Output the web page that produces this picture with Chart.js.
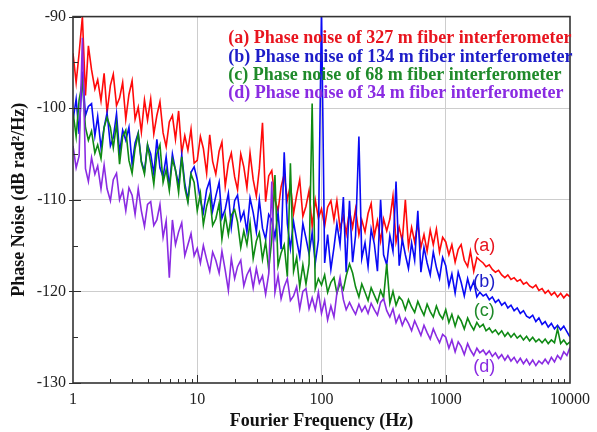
<!DOCTYPE html>
<html><head><meta charset="utf-8">
<script src="https://cdn.jsdelivr.net/npm/chart.js@4.4.1/dist/chart.umd.min.js"></script>
<style>html,body{margin:0;padding:0;background:#fff}#wrap{width:597px;height:432px;position:relative}</style>
</head><body><div id="wrap"><canvas id="c"></canvas></div>
<script>
// Fourier frequency grid (Hz)
const FREQ = [
1,1.06,1.12,1.19,1.26,1.33,1.41,1.5,1.58,1.68,1.78,1.88,2,2.11,2.24,2.37,2.51,2.66,2.82,2.99,3.16,3.35,3.55,3.76,3.98,4.22,4.47,4.73,5.01,5.31,5.62,5.96,6.31,6.68,7.08,7.5,7.94,8.41,8.91,9.44,
10,10.6,11.2,11.9,12.6,13.3,14.1,15,15.8,16.8,17.8,18.8,20,21.1,22.4,23.7,25.1,26.6,28.2,29.9,31.6,33.5,35.5,37.6,39.8,42.2,44.7,47.3,50.1,53.1,56.2,59.6,63.1,66.8,70.8,75,79.4,84.1,89.1,94.4,
100,106,112,119,126,133,141,150,158,168,178,188,200,211,224,237,251,266,282,299,316,335,355,376,398,422,447,473,501,531,562,596,631,668,708,750,794,841,891,944,
1000,1060,1120,1190,1260,1330,1410,1500,1580,1680,1780,1880,2000,2110,2240,2370,2510,2660,2820,2990,3160,3350,3550,3760,3980,4220,4470,4730,5010,5310,5620,5960,6310,6680,7080,7500,7940,8410,8910,9440,10000
];
// (a) 327 m fiber, dB rad^2/Hz
const NOISE_327 = [
-94.0,-97.2,-94.0,-90.0,-98.6,-93.2,-95.8,-97.9,-96.9,-99.2,-96.2,-100.5,-97.5,-96.3,-99.7,-98.9,-97.2,-101.2,-98.5,-97.0,-101.2,-99.9,-102.6,-99.1,-101.3,-99.0,-102.8,-100.8,-99.3,-102.7,-104.2,-101.5,-100.8,-103.4,-100.3,-104.9,-103.0,-104.6,-102.3,-106.0,
-105.7,-103.1,-104.4,-107.1,-102.9,-105.8,-107.2,-104.7,-103.7,-108.5,-106.0,-104.9,-107.5,-108.9,-105.0,-106.4,-108.7,-104.9,-107.8,-109.6,-106.6,-101.6,-110.2,-107.4,-106.8,-110.0,-111.2,-108.6,-107.2,-110.0,-108.4,-111.5,-109.5,-107.8,-111.8,-110.7,-109.0,-112.9,-110.0,-112.0,
-111.0,-112.9,-110.8,-110.1,-112.2,-110.1,-113.1,-111.8,-113.7,-111.2,-113.0,-111.0,-113.8,-112.2,-113.5,-111.5,-110.4,-114.0,-112.3,-114.5,-112.1,-113.4,-112.1,-109.6,-114.6,-113.0,-114.5,-110.0,-115.1,-113.0,-114.6,-112.6,-115.2,-113.8,-115.6,-113.3,-114.9,-113.2,-115.7,-114.1,
-114.6,-116.0,-114.9,-116.8,-115.4,-114.9,-116.6,-117.3,-115.6,-117.8,-116.3,-116.6,-116.9,-117.3,-117.1,-117.6,-117.9,-117.7,-118.2,-118.5,-118.2,-118.7,-118.5,-118.9,-118.7,-119.2,-119.0,-119.4,-119.6,-119.3,-119.9,-119.7,-120.2,-119.9,-120.4,-120.1,-120.6,-120.2,-120.7,-120.3,-120.6
];
// (b) 134 m fiber
const NOISE_134 = [
-101.3,-99.0,-102.8,-96.0,-100.8,-99.8,-99.5,-103.0,-100.9,-104.3,-102.1,-100.5,-104.1,-103.2,-100.6,-104.9,-102.4,-103.5,-102.1,-106.1,-103.8,-102.7,-105.8,-106.9,-104.0,-105.0,-107.2,-103.4,-106.5,-107.5,-105.3,-108.6,-105.0,-106.8,-108.3,-105.1,-108.2,-110.0,-107.0,-106.4,
-107.8,-110.1,-111.4,-108.9,-107.9,-111.2,-109.6,-108.1,-112.0,-111.0,-109.3,-113.0,-110.1,-109.5,-112.2,-111.3,-113.5,-109.8,-111.4,-113.5,-110.0,-113.1,-114.3,-111.6,-112.2,-114.1,-111.4,-115.4,-104.8,-112.6,-115.3,-112.4,-114.4,-116.2,-112.6,-114.2,-115.9,-113.6,-116.9,-114.4,
-89.0,-116.9,-113.8,-117.6,-115.2,-112.6,-114.9,-109.7,-117.9,-110.1,-116.8,-113.9,-103.1,-116.4,-114.7,-117.3,-113.2,-114.8,-117.8,-110.0,-116.0,-117.1,-113.9,-115.6,-108.0,-117.2,-114.3,-116.0,-117.5,-114.7,-116.6,-111.2,-117.9,-115.2,-116.9,-118.2,-115.7,-117.4,-118.6,-116.3,
-117.2,-119.4,-118.1,-120.2,-117.9,-119.0,-120.5,-118.6,-119.8,-118.9,-120.6,-120.1,-120.5,-120.3,-120.9,-120.6,-121.2,-120.9,-121.5,-121.2,-121.8,-121.5,-122.1,-121.8,-122.4,-122.1,-122.7,-122.9,-122.6,-123.3,-122.9,-123.6,-123.3,-123.9,-123.5,-124.1,-123.7,-124.2,-123.8,-124.4,-125.0
];
// (c) 68 m fiber
const NOISE_68 = [
-100.4,-103.1,-99.1,-97.2,-102.1,-103.5,-102.5,-104.9,-104.0,-105.5,-102.1,-101.0,-102.1,-104.3,-101.7,-106.1,-103.1,-102.4,-105.7,-107.1,-104.4,-102.8,-105.9,-107.2,-104.0,-106.0,-108.3,-105.0,-104.0,-108.1,-106.7,-109.0,-105.6,-106.7,-109.2,-105.3,-108.7,-110.3,-107.2,-108.1,
-111.2,-109.3,-112.7,-110.7,-109.5,-112.8,-112.1,-110.4,-114.3,-111.7,-113.8,-111.7,-111.1,-112.4,-115.2,-113.4,-114.9,-112.5,-116.4,-114.5,-113.6,-116.5,-114.6,-117.6,-114.3,-107.3,-117.2,-115.8,-114.9,-118.4,-106.0,-117.8,-116.3,-119.5,-117.1,-119.2,-117.0,-99.5,-119.7,-118.6,
-119.3,-118.2,-120.1,-119.0,-118.5,-120.2,-119.1,-119.8,-118.3,-117.0,-118.0,-119.5,-120.6,-119.2,-120.1,-121.0,-119.6,-120.4,-121.2,-119.9,-120.7,-117.0,-121.3,-120.0,-121.5,-120.6,-121.0,-122.0,-120.9,-121.7,-122.3,-121.1,-121.9,-122.6,-121.4,-122.2,-122.8,-121.6,-122.5,-123.0,
-122.0,-123.4,-122.5,-123.8,-122.7,-123.2,-124.1,-122.9,-123.6,-124.2,-123.4,-123.9,-123.6,-124.3,-124.0,-124.5,-124.2,-124.7,-124.3,-124.9,-124.5,-125.0,-124.6,-125.1,-124.8,-125.3,-124.9,-125.4,-125.0,-125.5,-125.2,-125.6,-125.2,-125.7,-125.3,-125.6,-124.1,-125.7,-125.3,-125.8,-125.5
];
// (d) 34 m fiber
const NOISE_34 = [
-104.1,-106.5,-105.2,-92.3,-106.6,-108.0,-105.4,-107.2,-106.3,-108.8,-106.2,-108.8,-110.1,-107.8,-107.1,-110.0,-109.0,-111.2,-108.7,-109.5,-111.6,-108.8,-111.2,-112.9,-110.5,-110.2,-112.8,-112.2,-110.5,-114.1,-112.3,-118.5,-112.2,-114.9,-113.5,-112.5,-116.1,-114.9,-113.7,-116.1,
-115.3,-116.9,-115.0,-116.5,-117.8,-115.7,-116.6,-118.0,-115.6,-117.7,-119.9,-116.4,-118.6,-117.3,-116.6,-119.4,-118.2,-117.5,-119.6,-117.5,-119.1,-118.3,-120.3,-118.1,-108.0,-120.1,-118.3,-120.8,-119.5,-118.6,-121.0,-120.5,-119.5,-121.9,-120.0,-119.7,-121.9,-120.7,-122.0,-120.1,
-122.4,-121.0,-123.1,-121.6,-122.8,-120.2,-118.5,-120.9,-122.0,-121.2,-121.9,-122.5,-121.4,-122.2,-121.6,-122.4,-121.3,-122.0,-122.6,-121.2,-120.8,-122.1,-122.8,-121.9,-123.4,-122.6,-123.7,-122.9,-123.5,-124.3,-123.2,-124.0,-124.8,-123.7,-124.5,-125.2,-124.1,-124.9,-125.6,-124.7,
-125.0,-126.2,-125.3,-126.6,-125.5,-126.0,-126.9,-125.7,-126.4,-127.0,-126.2,-126.7,-126.4,-126.9,-126.5,-127.1,-126.7,-127.3,-126.9,-127.5,-127.0,-127.6,-127.2,-127.8,-127.3,-127.9,-127.4,-128.0,-127.5,-128.1,-127.6,-127.9,-127.4,-127.9,-127.2,-127.7,-127.0,-127.4,-126.6,-127.0,-126.1
];
const SERIES_NAMES = [
  '(a) Phase noise of 327 m fiber interferometer',
  '(b) Phase noise of 134 m fiber interferometer',
  '(c) Phase noise of 68 m fiber interferometer',
  '(d) Phase noise of 34 m fiber interferometer'
];
const CURVE_TAGS = ['(a)', '(b)', '(c)', '(d)'];
const TAG_FREQ = 2040;
const TAG_DB = [-115.0, -119.0, -122.1, -128.3];
const LEGEND_FREQ = 17.8;
const LEGEND_DB = [-92.4, -94.5, -96.45, -98.4];
const X_TICKS = [1, 10, 100, 1000, 10000];
const Y_TICKS = [-130, -120, -110, -100, -90];

const LINE_COLORS = ['#ff0a0a', '#0a0af5', '#0f8a14', '#8a2be2'];
const TEXT_COLORS = ['#e8141e', '#1c1cc8', '#1f8a2a', '#8a2be2'];
const SERIES = [NOISE_327, NOISE_134, NOISE_68, NOISE_34];

const SERIF = '"Liberation Serif", "Times New Roman", serif';
const SANS = '"Liberation Sans", Arial, sans-serif';
Chart.defaults.font.family = SERIF;

const overlay = {
  id: 'overlay',
  afterDraw(chart) {
    const {ctx, chartArea: a, scales: {x, y}} = chart;
    ctx.save();
    ctx.strokeStyle = '#2e2e2e';
    ctx.lineWidth = 1;
    ctx.beginPath();
    for (let d = 1; d < 10000; d *= 10) {
      for (let m = 1; m <= 9; m++) {
        const v = m * d;
        if (v <= 1) continue;
        const px = Math.round(x.getPixelForValue(v)) + 0.5;
        const len = m === 1 ? 8 : 4;
        ctx.moveTo(px, a.bottom);
        ctx.lineTo(px, a.bottom - len);
      }
    }
    for (let v = -130; v <= -90; v += 5) {
      const py = Math.round(y.getPixelForValue(v)) + 0.5;
      if (v % 10 === 0) {
        ctx.moveTo(a.left - 4, py);
        ctx.lineTo(a.left + 8, py);
      } else {
        ctx.moveTo(a.left, py);
        ctx.lineTo(a.left + 5, py);
      }
    }
    ctx.stroke();
    ctx.lineWidth = 1.6;
    ctx.strokeStyle = '#333';
    ctx.strokeRect(a.left, a.top, a.right - a.left, a.bottom - a.top);

    ctx.font = 'bold 18px ' + SERIF;
    ctx.textAlign = 'left';
    ctx.textBaseline = 'middle';
    const lx = x.getPixelForValue(LEGEND_FREQ);
    SERIES_NAMES.forEach((t, i) => {
      ctx.fillStyle = TEXT_COLORS[i];
      ctx.fillText(t, lx, y.getPixelForValue(LEGEND_DB[i]));
    });
    ctx.font = '18px ' + SANS;
    ctx.textAlign = 'center';
    const tx = x.getPixelForValue(TAG_FREQ);
    CURVE_TAGS.forEach((t, i) => {
      ctx.fillStyle = TEXT_COLORS[i];
      ctx.fillText(t, tx, y.getPixelForValue(TAG_DB[i]));
    });
    ctx.restore();
  }
};

const datasets = SERIES.map((vals, i) => ({
  label: SERIES_NAMES[i],
  data: FREQ.map((f, k) => ({x: f, y: vals[k]})),
  borderColor: LINE_COLORS[i],
  borderWidth: 1.6,
  pointRadius: 0,
  tension: 0,
  fill: false,
  clip: 0,
  order: 4 - i
}));

new Chart(document.getElementById('c'), {
  type: 'line',
  data: {datasets},
  options: {
    responsive: true,
    maintainAspectRatio: false,
    animation: false,
    events: [],
    layout: {padding: {top: 13, right: 20, left: 0, bottom: 0}},
    plugins: {legend: {display: false}, tooltip: {enabled: false}},
    scales: {
      x: {
        type: 'logarithmic',
        min: 1, max: 10000,
        afterFit: s => { s.height = 49; },
        afterBuildTicks: s => { s.ticks = s.ticks.filter(t => t.value >= 1 && t.value <= 10000); },
        border: {display: false},
        grid: {
          drawTicks: false,
          lineWidth: 1,
          color: c => (c.tick && X_TICKS.includes(c.tick.value) && c.tick.value !== 1 && c.tick.value !== 10000) ? '#cdcdcd' : 'rgba(0,0,0,0)'
        },
        ticks: {
          autoSkip: false, maxRotation: 0, minRotation: 0,
          padding: 7, color: '#222', font: {size: 16, family: SERIF},
          callback: v => X_TICKS.includes(v) ? String(v) : ''
        },
        title: {display: true, text: 'Fourier Frequency (Hz)', color: '#111',
          font: {size: 18, weight: 'bold', family: SERIF}, padding: {top: 0, bottom: 0}}
      },
      y: {
        type: 'linear',
        min: -130, max: -90,
        afterFit: s => { s.width = 73; },
        afterBuildTicks: s => { s.ticks = Y_TICKS.map(v => ({value: v})); },
        border: {display: false},
        grid: {
          drawTicks: false, lineWidth: 1,
          color: c => (c.tick && c.tick.value > -130 && c.tick.value < -90) ? '#cdcdcd' : 'rgba(0,0,0,0)'
        },
        ticks: {padding: 7, color: '#222', font: {size: 16, family: SERIF}},
        title: {display: true, text: 'Phase Noise (dB rad\u00B2/Hz)', color: '#111',
          font: {size: 18, weight: 'bold', family: SERIF}, padding: {top: 9, bottom: 0}}
      }
    }
  },
  plugins: [overlay]
});
</script>
</body></html>
